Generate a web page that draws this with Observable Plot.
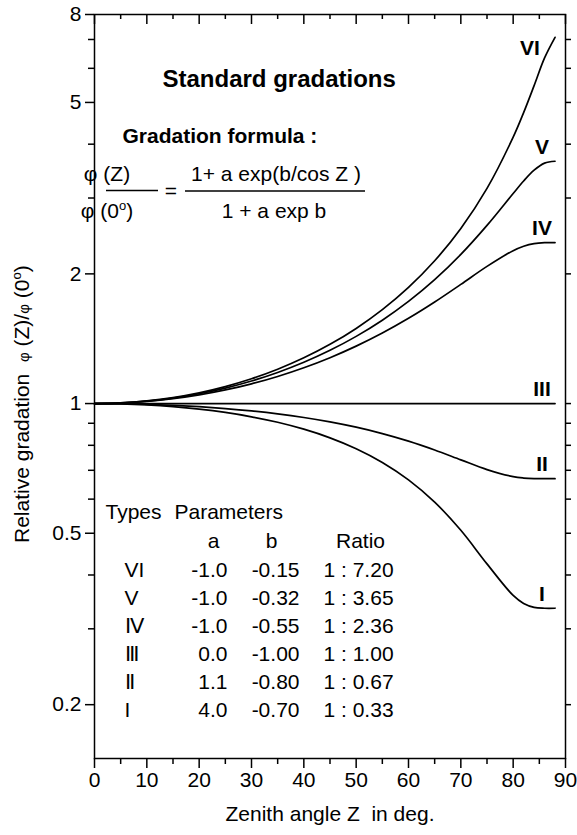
<!DOCTYPE html>
<html><head><meta charset="utf-8">
<script src="https://cdn.jsdelivr.net/npm/d3@7"></script>
<script src="https://cdn.jsdelivr.net/npm/@observablehq/plot@0.6"></script>
<style>
html,body{margin:0;padding:0;background:#fff;}
#chart svg{display:block;}
</style></head><body><div id="chart"></div>
<script>
// ---- data ----
const zenith = [0, 5, 10, 15, 20, 25, 30, 35, 40, 45, 50, 55, 60, 65, 70, 75, 80, 82, 84, 86, 88];
const typeVI  = [1, 1.0035, 1.0143, 1.0326, 1.0592, 1.0951, 1.1417, 1.2013, 1.2767, 1.3722, 1.4942, 1.6521, 1.8607, 2.1450, 2.5489, 3.1578, 4.1528, 4.7358, 5.4697, 6.3432, 7.0815];
const typeV   = [1, 1.0032, 1.0131, 1.0298, 1.0539, 1.0863, 1.1281, 1.1809, 1.2469, 1.3292, 1.4320, 1.5614, 1.7262, 1.9391, 2.2189, 2.5911, 3.0733, 3.2853, 3.4806, 3.6145, 3.6513];
const typeIV  = [1, 1.0029, 1.0115, 1.0262, 1.0473, 1.0754, 1.1112, 1.1559, 1.2109, 1.2778, 1.3592, 1.4577, 1.5770, 1.7205, 1.8904, 2.0815, 2.2642, 2.3184, 2.3515, 2.3630, 2.3638];
const typeIII = [1, 1, 1, 1, 1, 1, 1, 1, 1, 1, 1, 1, 1, 1, 1, 1, 1, 1, 1, 1, 1];
const typeII  = [1, 0.9990, 0.9959, 0.9908, 0.9835, 0.9737, 0.9615, 0.9465, 0.9283, 0.9067, 0.8813, 0.8517, 0.8179, 0.7801, 0.7402, 0.7027, 0.6766, 0.6716, 0.6696, 0.6692, 0.6692];
const typeI   = [1, 0.9982, 0.9929, 0.9838, 0.9708, 0.9536, 0.9317, 0.9048, 0.8720, 0.8326, 0.7856, 0.7301, 0.6652, 0.5905, 0.5079, 0.4245, 0.3586, 0.3436, 0.3365, 0.3349, 0.3349];
const curveNames = ["VI", "V", "IV", "III", "II", "I"];

const tableTypes = ["VI", "V", "\u2163", "\u2162", "\u2161", "I"];
const tableA = ["-1.0", "-1.0", "-1.0", "0.0", "1.1", "4.0"];
const tableB = ["-0.15", "-0.32", "-0.55", "-1.00", "-0.80", "-0.70"];
const tableRatio = ["1 : 7.20", "1 : 3.65", "1 : 2.36", "1 : 1.00", "1 : 0.67", "1 : 0.33"];

const xMajorTicks = [0, 10, 20, 30, 40, 50, 60, 70, 80, 90];
const xMinorTicks = [5, 15, 25, 35, 45, 55, 65, 75, 85];
const yMajorTicks = [0.2, 0.5, 1, 2, 5, 8];
const yMinorTicks = [0.3, 0.4, 0.6, 0.7, 0.8, 0.9, 3, 4, 6, 7];

// ---- build ----
const series = [typeVI, typeV, typeIV, typeIII, typeII, typeI];
const rows = curveNames.flatMap((name, k) => zenith.map((z, i) => ({type: name, z, v: series[k][i]})));
const ends = curveNames.map((name, k) => ({type: name, z: zenith[zenith.length - 1], v: series[k][series[k].length - 1]}));

const font = '"Liberation Sans", Arial, Helvetica, sans-serif';
const W = 577, H = 835, mL = 94, mR = 12, mT = 14, mB = 77;
const FW = W - mL - mR, FH = H - mT - mB;
const fs = 21;

const tableMarks = [];
tableMarks.push(Plot.text(["Types"], {text: d => d, frameAnchor: "top-left", dx: 105 - mL, dy: 504 - mT, textAnchor: "start", fontSize: fs}));
tableMarks.push(Plot.text(["Parameters"], {text: d => d, frameAnchor: "top-left", dx: 174 - mL, dy: 504 - mT, textAnchor: "start", fontSize: fs}));
tableMarks.push(Plot.text(["a"], {text: d => d, frameAnchor: "top-left", dx: 213 - mL, dy: 533 - mT, textAnchor: "middle", fontSize: fs}));
tableMarks.push(Plot.text(["b"], {text: d => d, frameAnchor: "top-left", dx: 271 - mL, dy: 533 - mT, textAnchor: "middle", fontSize: fs}));
tableMarks.push(Plot.text(["Ratio"], {text: d => d, frameAnchor: "top-left", dx: 360 - mL, dy: 533 - mT, textAnchor: "middle", fontSize: fs}));
tableTypes.forEach((t, i) => {
  const dy = 562 + 28 * i - mT;
  tableMarks.push(Plot.text([tableTypes[i]], {text: d => d, frameAnchor: "top-left", dx: 124 - mL, dy, textAnchor: "start", fontSize: fs}));
  tableMarks.push(Plot.text([tableA[i]], {text: d => d, frameAnchor: "top-left", dx: 227 - mL, dy, textAnchor: "end", fontSize: fs}));
  tableMarks.push(Plot.text([tableB[i]], {text: d => d, frameAnchor: "top-left", dx: 299 - mL, dy, textAnchor: "end", fontSize: fs}));
  tableMarks.push(Plot.text([tableRatio[i]], {text: d => d, frameAnchor: "top-left", dx: 323 - mL, dy, textAnchor: "start", fontSize: fs}));
});

const chart = Plot.plot({
  width: W, height: H,
  marginLeft: mL, marginRight: mR, marginTop: mT, marginBottom: mB,
  style: {fontFamily: font, background: "white", color: "black"},
  x: {domain: [0, 90], axis: null},
  y: {type: "log", domain: [0.15, 8], axis: null},
  marks: [
    // ticks
    Plot.tickX(xMajorTicks, {x: d => d, insetTop: FH, insetBottom: -10, strokeWidth: 1.5}),
    Plot.tickX(xMinorTicks, {x: d => d, insetTop: FH, insetBottom: -6, strokeWidth: 1.5}),
    Plot.tickX(xMajorTicks, {x: d => d, insetBottom: FH - 10, strokeWidth: 1.5}),
    Plot.tickX(xMinorTicks, {x: d => d, insetBottom: FH - 5, strokeWidth: 1.5}),
    Plot.tickY(yMajorTicks, {y: d => d, insetLeft: -9, insetRight: FW, strokeWidth: 1.5}),
    Plot.tickY(yMinorTicks, {y: d => d, insetLeft: -6, insetRight: FW, strokeWidth: 1.5}),
    Plot.tickY(yMajorTicks.filter(d => d < 8).concat(yMinorTicks), {y: d => d, insetLeft: FW, insetRight: -6, strokeWidth: 1.5}),
    // tick labels
    Plot.text(xMajorTicks, {x: d => d, text: d => String(d), frameAnchor: "bottom", dy: 28, fontSize: fs, textAnchor: "middle"}),
    Plot.text(yMajorTicks, {y: d => d, text: d => String(d), frameAnchor: "left", dx: -13, fontSize: fs, textAnchor: "end"}),
    // x axis title
    Plot.text(["Zenith angle Z\u00a0 in deg."], {text: d => d, frameAnchor: "bottom", dy: 62, fontSize: fs, textAnchor: "middle"}),
    // curves
    Plot.line(rows, {x: "z", y: "v", z: "type", curve: "catmull-rom", stroke: "black", strokeWidth: 1.7}),
    Plot.frame({stroke: "black", strokeWidth: 1.5}),
    // curve labels
    Plot.text(ends.filter(d => d.type === "VI"), {x: "z", y: "v", text: "type", dx: -25, dy: 11, fontWeight: "bold", fontSize: fs, textAnchor: "middle"}),
    Plot.text(ends.filter(d => d.type !== "VI"), {x: "z", y: "v", text: "type", dx: -13, dy: -14, fontWeight: "bold", fontSize: fs, textAnchor: "middle"}),
    // titles
    Plot.text(["Standard gradations"], {text: d => d, frameAnchor: "top-left", dx: 162 - mL, dy: 69 - mT, textAnchor: "start", fontWeight: "bold", fontSize: 24}),
    Plot.text(["Gradation formula :"], {text: d => d, frameAnchor: "top-left", dx: 122 - mL, dy: 128 - mT, textAnchor: "start", fontWeight: "bold", fontSize: fs}),
    ...tableMarks
  ]
});

// formula and y-axis title (need superscripts / fraction bars)
const svg = d3.select(chart);
const g = svg.append("g").attr("font-family", font).attr("font-size", fs).attr("fill", "black").style("white-space", "pre");
g.append("text").attr("x", 107).attr("y", 181).text("\u03c6 (Z)");
g.append("line").attr("x1", 106).attr("x2", 158).attr("y1", 190.5).attr("y2", 190.5).attr("stroke", "black").attr("stroke-width", 1.5);
const den = g.append("text").attr("x", 107).attr("y", 218);
den.append("tspan").text("\u03c6 (0");
den.append("tspan").attr("dy", -8).attr("font-size", 13).text("o");
den.append("tspan").attr("dy", 8).text(")");
g.append("text").attr("x", 171).attr("y", 198).attr("text-anchor", "middle").text("=");
g.append("text").attr("x", 276).attr("y", 181).attr("text-anchor", "middle").text("1+ a exp(b/cos Z )");
g.append("line").attr("x1", 185).attr("x2", 365).attr("y1", 191).attr("y2", 191).attr("stroke", "black").attr("stroke-width", 1.5);
g.append("text").attr("x", 274).attr("y", 218).attr("text-anchor", "middle").text("1 + a exp b");

const yl = g.append("text").attr("transform", "translate(29,543) rotate(-90)").attr("text-anchor", "start");
yl.append("tspan").text("Relative gradation  ");
yl.append("tspan").attr("font-size", 15).text("\u03c6");
yl.append("tspan").text(" (Z)/");
yl.append("tspan").attr("font-size", 15).text("\u03c6");
yl.append("tspan").text(" (0");
yl.append("tspan").attr("dy", -8).attr("font-size", 13).text("o");
yl.append("tspan").attr("dy", 8).text(")");

document.getElementById("chart").appendChild(chart);
</script>
</body></html>
